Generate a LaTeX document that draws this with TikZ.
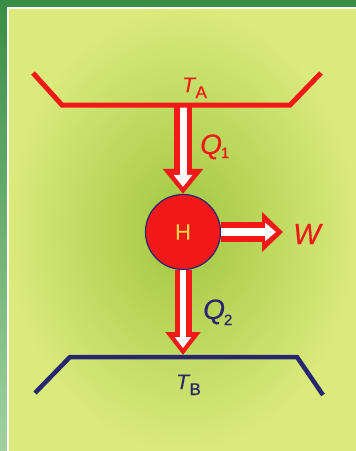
\documentclass[tikz,border=0pt]{standalone}
\usepackage{fontspec}
\setmainfont{Liberation Sans}[FakeBold=0.4,
  UprightFeatures={FakeBold=0.4}, ItalicFeatures={FakeBold=0.4}]
\usetikzlibrary{arrows.meta}
\definecolor{hred}{RGB}{240,24,24}
\definecolor{navy}{RGB}{40,38,110}
\definecolor{hyel}{RGB}{245,208,72}
\definecolor{pin}{RGB}{160,198,64}
\definecolor{pout}{RGB}{218,234,124}
\definecolor{gtop}{RGB}{58,140,68}
\definecolor{gbot}{RGB}{160,210,160}
\newcommand{\fs}[1]{\fontsize{#1}{#1}\selectfont}
\begin{document}
\begin{tikzpicture}[x=1pt,y=-1pt,
  lbl/.style={inner sep=0pt, anchor=base west},
  redline/.style={hred, line width=5pt, line join=miter},
  blueline/.style={navy, line width=4.5pt, line join=miter},
  inner/.style={white, line width=#1, shorten >=7pt}]
\useasboundingbox (0,0) rectangle (356,451);
\shade[top color=gtop, bottom color=gbot] (0,0) rectangle (356,451);
\shade[inner color=pin, outer color=pout] (8,8) rectangle (356,451);
\draw[white, line width=1.5pt] (356,8) -- (8,8) -- (8,451);
% reservoirs
\coordinate (A) at (183,107);
\coordinate (B) at (183,355);
\coordinate (Wt) at (283,232);
\node[circle, fill=hred, draw=navy, line width=1.2pt, minimum size=75pt, inner sep=0pt,
      text=hyel, font=\fs{22}] (H) at (183,232) {\raisebox{-2pt}{H}};
% arrows
\draw[hred, line width=18pt, -{Triangle[length=25pt,width=39pt]}] (A) -- (H);
\draw[inner=7pt, -{Triangle[length=12pt,width=18pt]}] (A) -- (H);
\draw[hred, line width=17pt, -{Triangle[length=23pt,width=34pt]}] (H) -- (B);
\draw[inner=6pt, -{Triangle[length=11pt,width=16pt]}] (H) -- (B);
\draw[hred, line width=20pt, -{Triangle[length=21pt,width=39pt]}] (H) -- (Wt);
\draw[inner=8pt, -{Triangle[length=11pt,width=18pt]}] (H) -- (Wt);
% lines
\draw[redline] (33,73) -- (62,105) -- (290,105) -- (321,73);
\draw[blueline] (35,393) -- (70,357) -- (297,357) -- (323,395);
% labels
\node[lbl, text=hred] (TA) at (182,92) {\fs{21}\itshape T\kern0.5pt\raisebox{-6pt}{\fs{17}\upshape A}};
\node[lbl, text=navy] (TB) at (176,389) {\fs{21}\itshape T\kern0.5pt\raisebox{-6pt}{\fs{17}\upshape B}};
\node[lbl, text=hred] (Q1) at (200,154) {\fs{28}\itshape Q\kern-1pt\raisebox{-4pt}{\fs{15}\upshape 1}};
\node[lbl, text=navy] (Q2) at (203,319) {\fs{28}\itshape Q\kern-1pt\raisebox{-6pt}{\fs{15}\upshape 2}};
\node[lbl, text=hred] (W) at (293,244) {\fs{29}\itshape W};
\end{tikzpicture}
\end{document}
